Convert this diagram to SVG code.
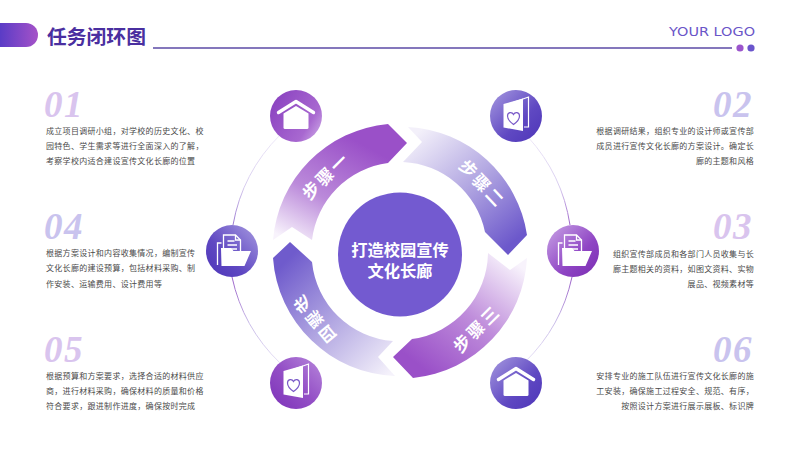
<svg xmlns="http://www.w3.org/2000/svg" width="800" height="450" viewBox="0 0 800 450">
<style>
text{font-family:"Noto Sans CJK SC","Noto Sans",sans-serif}
.b{font-size:8px;letter-spacing:.3px;fill:#4a4a4a;font-weight:400}
.e{text-anchor:end}
.n{font-family:"Liberation Serif",serif;font-style:italic;font-weight:700;font-size:37px;letter-spacing:1.500px}
.p{fill:#d9c4ee}.q{fill:#c9c3ee}
.s{font-size:17px;font-weight:700;fill:#fff;text-anchor:middle;letter-spacing:2.500px}
.c{font-size:16.300px;font-weight:700;fill:#fff;text-anchor:middle}
.w{fill:#fff}
.ol{fill:none;stroke:#fff;stroke-width:1.300}
.arc{fill:none;stroke-width:1}
</style>
<defs>
<linearGradient id="hd" x1="0" x2="1" y1="0" y2="0"><stop offset="0" stop-color="#5a3cc6"/><stop offset="1" stop-color="#a552c8"/></linearGradient>
<linearGradient id="a1" gradientUnits="userSpaceOnUse" x1="288" y1="240" x2="345" y2="135"><stop offset="0" stop-color="#f8f3fc"/><stop offset=".45" stop-color="#bb8ada"/><stop offset="1" stop-color="#9a50c8"/></linearGradient>
<linearGradient id="a2" gradientUnits="userSpaceOnUse" x1="415" y1="135" x2="510" y2="245"><stop offset="0" stop-color="#f3f0fa"/><stop offset=".5" stop-color="#b3a8e2"/><stop offset="1" stop-color="#6c58cb"/></linearGradient>
<linearGradient id="a3" gradientUnits="userSpaceOnUse" x1="512" y1="260" x2="425" y2="370"><stop offset="0" stop-color="#f8f3fc"/><stop offset=".5" stop-color="#bf8ddb"/><stop offset="1" stop-color="#9a50c8"/></linearGradient>
<linearGradient id="a4" gradientUnits="userSpaceOnUse" x1="392" y1="372" x2="285" y2="262"><stop offset="0" stop-color="#f5f2fb"/><stop offset=".5" stop-color="#b3a8e2"/><stop offset="1" stop-color="#6f5bcc"/></linearGradient>
<linearGradient id="g1" x1="0" y1=".2" x2="1" y2=".8"><stop offset="0" stop-color="#8a42c0"/><stop offset=".75" stop-color="#a868d0"/><stop offset="1" stop-color="#c8a0e4"/></linearGradient>
<linearGradient id="g2" x1="0" y1="0" x2="1" y2="1"><stop offset="0" stop-color="#a79ae0"/><stop offset=".6" stop-color="#5f48c2"/><stop offset="1" stop-color="#4d35b8"/></linearGradient>
<linearGradient id="g3" x1="1" y1="0" x2="0" y2="1"><stop offset="0" stop-color="#a79ae0"/><stop offset=".6" stop-color="#5f48c2"/><stop offset="1" stop-color="#4d35b8"/></linearGradient>
<linearGradient id="g4" x1="0" y1="0" x2="1" y2="1"><stop offset="0" stop-color="#c9a4e6"/><stop offset=".6" stop-color="#8f45c4"/><stop offset="1" stop-color="#7a2cb2"/></linearGradient>
<linearGradient id="g5" x1="1" y1="0" x2="0" y2="1"><stop offset="0" stop-color="#b888dc"/><stop offset=".5" stop-color="#9450c6"/><stop offset="1" stop-color="#7c32b8"/></linearGradient>
<linearGradient id="l1" gradientUnits="userSpaceOnUse" x1="232" y1="225" x2="280" y2="135"><stop offset="0" stop-color="#9a78d0"/><stop offset=".4" stop-color="#d8cdef"/><stop offset="1" stop-color="#eee9f8"/></linearGradient>
<linearGradient id="l2" gradientUnits="userSpaceOnUse" x1="528" y1="135" x2="572" y2="225"><stop offset="0" stop-color="#eee9f8"/><stop offset=".6" stop-color="#d8cdef"/><stop offset="1" stop-color="#9a60c8"/></linearGradient>
<linearGradient id="l3" gradientUnits="userSpaceOnUse" x1="572" y1="277" x2="528" y2="362"><stop offset="0" stop-color="#9a60c8"/><stop offset=".5" stop-color="#c9bce8"/><stop offset="1" stop-color="#e6e0f5"/></linearGradient>
<linearGradient id="l4" gradientUnits="userSpaceOnUse" x1="232" y1="277" x2="282" y2="362"><stop offset="0" stop-color="#9a60c8"/><stop offset=".5" stop-color="#c9bce8"/><stop offset="1" stop-color="#e6e0f5"/></linearGradient>
<g id="house"><path d="M-17.500-3.500L0-14.500L17.500-3.500" fill="none" stroke="#fff" stroke-width="3.400" stroke-linecap="round" stroke-linejoin="round"/><path d="M-12.500-2.500L0-10L12.500-2.500V11.500Q12.500 13 11 13H-11Q-12.500 13-12.500 11.500Z" class="w"/></g>
<g id="card"><path d="M-12.500-12L7-17.500V15L-12.500 11.500Z" class="w"/><path d="M-3-13.500L12.500-19V11H8" fill="none" stroke="#fff" stroke-width="1.200"/><path d="M-2.500 8.500C-7.500 5-8.500 2.500-8.500 0C-8.500-4-4-4.500-2.500-1.500C-1-4.500 3.500-4 3.500 0C3.500 2.500 2.500 5-2.500 8.500Z" fill="none" stroke="#7a5ac8" stroke-width="1.200"/></g>
<g id="folder"><path d="M-8.500 2V-16H3.500L8.500-11V2" class="ol"/><path d="M3.500-16V-11H8.500" class="ol"/><path d="M-4.500-10H2.500M-4.500-6H5M-4.500-2H5" class="ol"/><path d="M-14.500 14V-8H-10.500" class="ol"/><path d="M-10.500 15L-11-3H-1L1.500 0H19L12.500 15Z" class="w"/></g>
</defs>
<rect width="800" height="450" fill="#fff"/>
<g id="header">
<path d="M0 23H26A12 12 0 0 1 26 47H0Z" fill="url(#hd)"/>
<text x="47" y="44" fill="#4a2fa0" font-weight="700" style="font-size:19.800px">任务闭环图</text>
<path d="M153 48H732" stroke="#5b4aa6" stroke-width="1.500"/>
<text x="669" y="36" style="font-family:'DejaVu Sans',sans-serif;font-size:13px;fill:#6a55c8" textLength="86" lengthAdjust="spacingAndGlyphs">YOUR LOGO</text>
<circle cx="740" cy="48" r="3.600" fill="#9b55cc"/><circle cx="751" cy="48" r="3.600" fill="#6a55cc"/>
</g>
<g id="connectors">
<path class="arc" stroke="url(#l1)" d="M233 225A169 169 0 0 1 280 135"/>
<path class="arc" stroke="url(#l2)" d="M528 137A169 169 0 0 1 570 225"/>
<path class="arc" stroke="url(#l3)" d="M572 277A169 169 0 0 1 525 362"/>
<path class="arc" stroke="url(#l4)" d="M232 277A169 169 0 0 0 280 363"/>
<path id="arrow1" fill="url(#a1)" d="M273 240A127 127 0 0 1 388 124L407 143L388 163A88 88 0 0 0 312 240L292 227Z"/>
<path id="arrow2" fill="url(#a2)" d="M408 127A127 127 0 0 1 527 235L508 255L485 232A88 88 0 0 0 403 162L422 142Z"/>
<path id="arrow3" fill="url(#a3)" d="M527 258A127 127 0 0 1 413 378L393 357L412 339A88 88 0 0 0 488 253L510 270Z"/>
<path id="arrow4" fill="url(#a4)" d="M395 376A127 127 0 0 1 273 258L290 242L312 262A88 88 0 0 0 393 341L378 357Z"/>
</g>
<g id="step1"><text class="s" transform="translate(326 176) rotate(-45)" y="6">步骤一</text></g>
<g id="step2"><text class="s" transform="translate(482 184) rotate(47)" y="6">步骤二</text></g>
<g id="step3"><text class="s" transform="translate(477 329) rotate(-45)" y="6">步骤三</text></g>
<g id="step4"><text class="s" transform="translate(316 320) rotate(50) scale(1 -1)" y="6">步骤四</text></g>
<g id="center"><circle cx="400" cy="254.400" r="62" fill="#735ad0"/><text class="c"><tspan x="400" y="256">打造校园宣传</tspan><tspan x="400" y="277">文化长廊</tspan></text></g>
<g id="node1" transform="translate(296 116)"><circle r="26" fill="url(#g1)"/><use href="#house"/></g>
<g id="node2" transform="translate(516 116)"><circle r="26" fill="url(#g2)"/><use href="#card"/></g>
<g id="node3" transform="translate(573 251)"><circle r="26" fill="url(#g4)"/><use href="#folder"/></g>
<g id="node4" transform="translate(232 251)"><circle r="26" fill="url(#g3)"/><use href="#folder"/></g>
<g id="node5" transform="translate(296 383)"><circle r="26" fill="url(#g5)"/><use href="#card"/></g>
<g id="node6" transform="translate(516 383)"><circle r="26" fill="url(#g2)"/><use href="#house"/></g>
<g id="text1"><text class="n p" x="44" y="117">01</text><text class="b" x="46" y="134">成立项目调研小组，对学校的历史文化、校</text><text class="b" x="46" y="149">园特色、学生需求等进行全面深入的了解，</text><text class="b" x="46" y="164">考察学校内适合建设宣传文化长廊的位置</text></g>
<g id="text2"><text class="n q e" x="753" y="117">02</text><text class="b e" x="754" y="134">根据调研结果，组织专业的设计师或宣传部</text><text class="b e" x="754" y="149">成员进行宣传文化长廊的方案设计。确定长</text><text class="b e" x="754" y="164">廊的主题和风格</text></g>
<g id="text3"><text class="n p e" x="753" y="239">03</text><text class="b e" x="754" y="257">组织宣传部成员和各部门人员收集与长</text><text class="b e" x="754" y="272">廊主题相关的资料，如图文资料、实物</text><text class="b e" x="754" y="287">展品、视频素材等</text></g>
<g id="text4"><text class="n q" x="44" y="239">04</text><text class="b" x="46" y="256">根据方案设计和内容收集情况，编制宣传</text><text class="b" x="46" y="271">文化长廊的建设预算，包括材料采购、制</text><text class="b" x="46" y="287">作安装、运输费用、设计费用等</text></g>
<g id="text5"><text class="n p" x="44" y="362">05</text><text class="b" x="46" y="379">根据预算和方案要求，选择合适的材料供应</text><text class="b" x="46" y="394">商，进行材料采购，确保材料的质量和价格</text><text class="b" x="46" y="409">符合要求，跟进制作进度，确保按时完成</text></g>
<g id="text6"><text class="n q e" x="753" y="362">06</text><text class="b e" x="754" y="379">安排专业的施工队伍进行宣传文化长廊的施</text><text class="b e" x="754" y="394">工安装，确保施工过程安全、规范、有序，</text><text class="b e" x="754" y="409">按照设计方案进行展示展板、标识牌</text></g>
</svg>
